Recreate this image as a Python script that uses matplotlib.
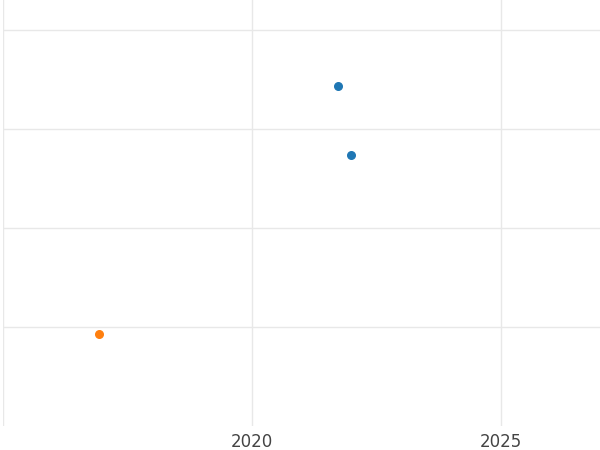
import matplotlib
matplotlib.use("Agg")
import matplotlib.pyplot as plt

blue_x = [2021.73, 2021.99]
blue_y = [3.43, 2.74]
orange_x = [2016.93]
orange_y = [0.93]
xticks = [2015, 2020, 2025]
xticklabels = ["", "2020", "2025"]

fig = plt.figure(figsize=(6, 4.5), dpi=100)
ax = fig.add_axes([3/600, 24/450, 597/600, 426/450])
ax.scatter(blue_x, blue_y, color="#1f77b4", s=30, zorder=3)
ax.scatter(orange_x, orange_y, color="#ff7f0e", s=30, zorder=3)
ax.set_xlim(2015, 2015 + 597/49.8)
ax.set_ylim(0, 426/99)
ax.set_xticks(xticks)
ax.set_xticklabels(xticklabels, fontsize=12, color="#444444")
ax.set_yticks([1, 2, 3, 4])
ax.set_yticklabels([])
ax.tick_params(length=0, pad=5)
ax.grid(True, color="#e8e8e8", linewidth=1)
ax.set_axisbelow(True)
for s in ax.spines.values():
    s.set_visible(False)
fig.savefig("out.png", dpi=100)
